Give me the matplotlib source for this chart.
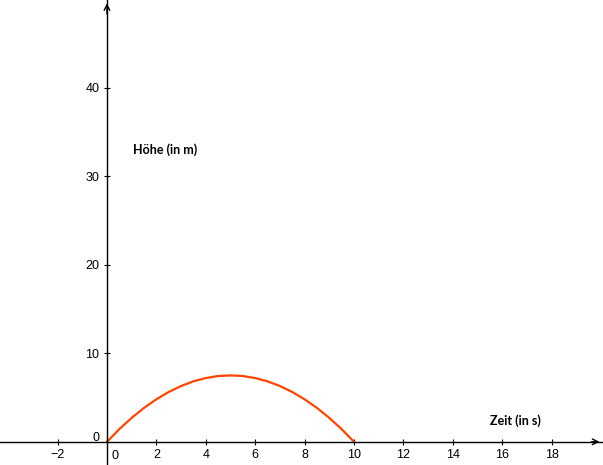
import matplotlib.pyplot as plt

# Zeit (s) und Höhe (m)
zeit = [0, 0.5, 1, 1.5, 2, 2.5, 3, 3.5, 4, 4.5, 5, 5.5, 6, 6.5, 7, 7.5, 8, 8.5, 9, 9.5, 10]
hoehe = [0, 1.43, 2.7, 3.83, 4.8, 5.63, 6.3, 6.83, 7.2, 7.43, 7.5,
         7.43, 7.2, 6.83, 6.3, 5.63, 4.8, 3.83, 2.7, 1.43, 0]

x_ticks = [-2, 2, 4, 6, 8, 10, 12, 14, 16, 18]
y_ticks = [10, 20, 30, 40]

fig = plt.figure(figsize=(6.03, 4.65), dpi=100)
ax = fig.add_axes([0, 0, 1, 1])
ax.set_xlim(-4.33, 20.08)
ax.set_ylim(-2.62, 49.9)

# Achsen durch den Ursprung
for s in ['top', 'right']:
    ax.spines[s].set_visible(False)
ax.spines['left'].set_position(('data', 0))
ax.spines['bottom'].set_position(('data', 0))
ax.spines['left'].set_linewidth(1)
ax.spines['bottom'].set_linewidth(1)

ax.set_xticks(x_ticks)
ax.set_yticks(y_ticks)
ax.tick_params(direction='inout', length=5, width=0.8, labelsize=9, pad=3)
for lab in ax.get_xticklabels() + ax.get_yticklabels():
    lab.set_family('Liberation Sans')
ax.text(0.2, -0.9, '0', ha='left', va='top', fontsize=9, family='Liberation Sans')
ax.text(-0.3, -0.25, '0', ha='right', va='bottom', fontsize=9, family='Liberation Sans')

# Pfeilspitzen
ax.annotate('', xy=(20.05, 0), xytext=(19.5, 0),
            arrowprops=dict(arrowstyle='->', lw=1, color='black'))
ax.annotate('', xy=(0, 49.85), xytext=(0, 48),
            arrowprops=dict(arrowstyle='->', lw=1, color='black'))

# Flugkurve
ax.plot(zeit, hoehe, color='#ff4500', linewidth=1.6, clip_on=False)

ax.text(1.05, 33.0, 'Höhe (in m)', fontsize=9, fontweight='bold', family='Lato', va='center')
ax.text(15.5, 2.35, 'Zeit (in s)', fontsize=9, fontweight='bold', family='Lato', va='center')

plt.savefig('out.png', dpi=100)
